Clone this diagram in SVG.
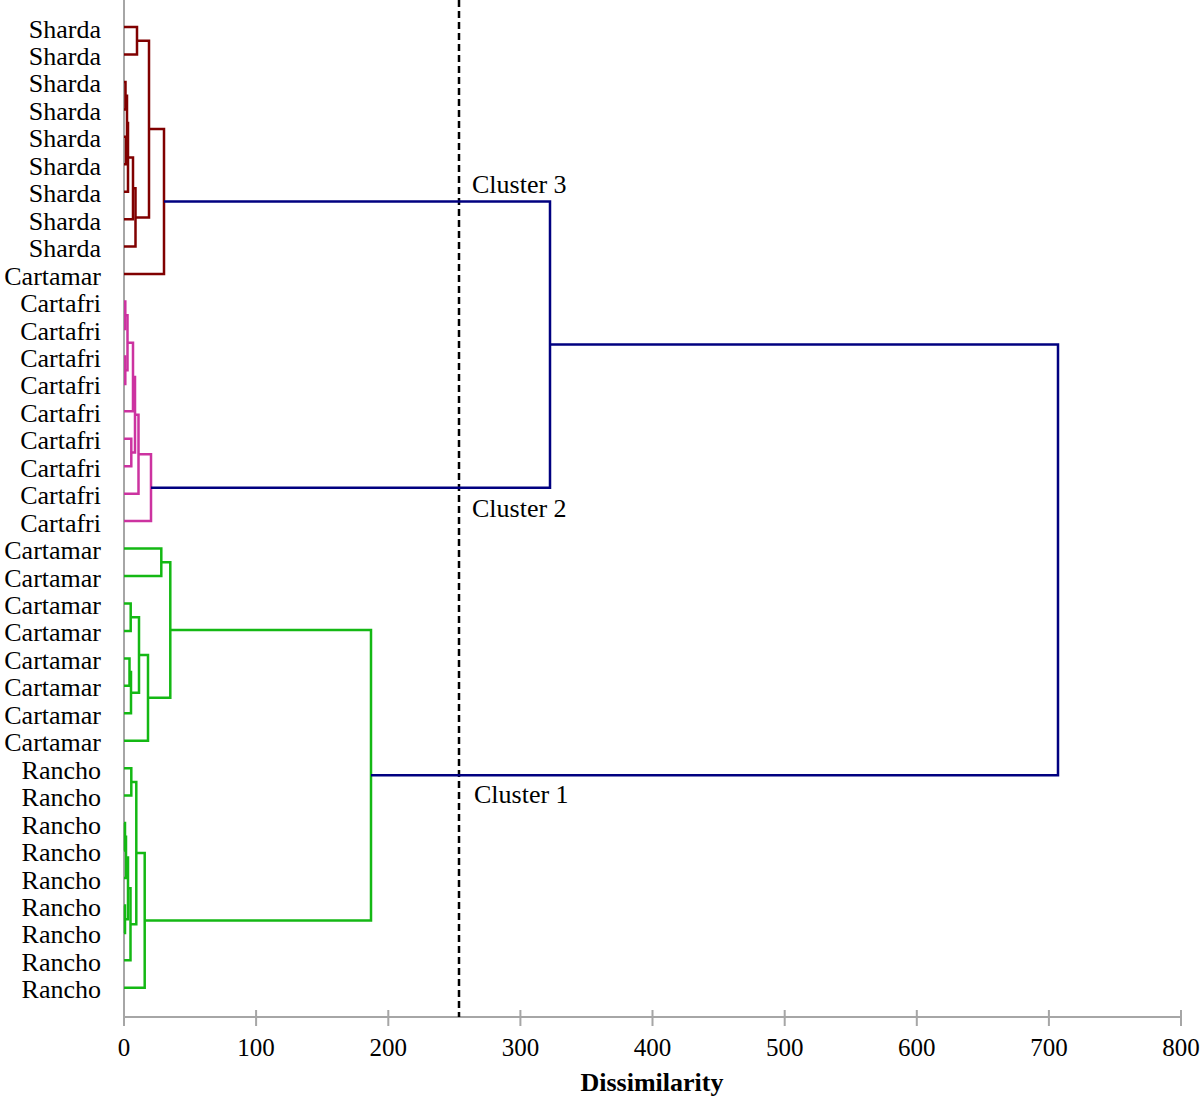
<svg xmlns="http://www.w3.org/2000/svg" width="1200" height="1100" viewBox="0 0 1200 1100">
<style>
text{font-family:"Liberation Serif","Times New Roman",serif;fill:#000}
.lbl{font-size:26px;text-anchor:end}
.tick{font-size:25px;text-anchor:middle}
.cl{font-size:26px}
.ttl{font-size:26px;font-weight:bold;text-anchor:middle}
.ax{stroke:#a6a6a6;stroke-width:2;fill:none}
.e{fill:none;stroke-width:2.5;stroke-linejoin:miter;stroke-linecap:butt}
.c3{stroke:#800000}
.c2{stroke:#cc33a0}
.c1{stroke:#14b814}
.top{stroke:#000080}
</style>
<rect width="1200" height="1100" fill="#fff"/>
<g id="axes">
<path class="ax" d="M124 0 V1017 H1181"/>
<path class="ax" d="M124 1010 V1026 M256.1 1010 V1026 M388.3 1010 V1026 M520.4 1010 V1026 M652.5 1010 V1026 M784.7 1010 V1026 M916.8 1010 V1026 M1048.9 1010 V1026 M1181 1010 V1026"/>
<text class="tick" x="124" y="1056">0</text>
<text class="tick" x="256.1" y="1056">100</text>
<text class="tick" x="388.3" y="1056">200</text>
<text class="tick" x="520.4" y="1056">300</text>
<text class="tick" x="652.5" y="1056">400</text>
<text class="tick" x="784.7" y="1056">500</text>
<text class="tick" x="916.8" y="1056">600</text>
<text class="tick" x="1048.9" y="1056">700</text>
<text class="tick" x="1181" y="1056">800</text>
<text class="ttl" x="652" y="1091">Dissimilarity</text>
</g>
<g id="leaf-labels">
<text class="lbl" x="101" y="37.5">Sharda</text>
<text class="lbl" x="101" y="65">Sharda</text>
<text class="lbl" x="101" y="92.4">Sharda</text>
<text class="lbl" x="101" y="119.9">Sharda</text>
<text class="lbl" x="101" y="147.3">Sharda</text>
<text class="lbl" x="101" y="174.8">Sharda</text>
<text class="lbl" x="101" y="202.2">Sharda</text>
<text class="lbl" x="101" y="229.7">Sharda</text>
<text class="lbl" x="101" y="257.1">Sharda</text>
<text class="lbl" x="101" y="284.6">Cartamar</text>
<text class="lbl" x="101" y="312">Cartafri</text>
<text class="lbl" x="101" y="339.5">Cartafri</text>
<text class="lbl" x="101" y="366.9">Cartafri</text>
<text class="lbl" x="101" y="394.4">Cartafri</text>
<text class="lbl" x="101" y="421.8">Cartafri</text>
<text class="lbl" x="101" y="449.3">Cartafri</text>
<text class="lbl" x="101" y="476.7">Cartafri</text>
<text class="lbl" x="101" y="504.2">Cartafri</text>
<text class="lbl" x="101" y="531.6">Cartafri</text>
<text class="lbl" x="101" y="559.1">Cartamar</text>
<text class="lbl" x="101" y="586.5">Cartamar</text>
<text class="lbl" x="101" y="614">Cartamar</text>
<text class="lbl" x="101" y="641.4">Cartamar</text>
<text class="lbl" x="101" y="668.9">Cartamar</text>
<text class="lbl" x="101" y="696.3">Cartamar</text>
<text class="lbl" x="101" y="723.8">Cartamar</text>
<text class="lbl" x="101" y="751.2">Cartamar</text>
<text class="lbl" x="101" y="778.7">Rancho</text>
<text class="lbl" x="101" y="806.1">Rancho</text>
<text class="lbl" x="101" y="833.6">Rancho</text>
<text class="lbl" x="101" y="861">Rancho</text>
<text class="lbl" x="101" y="888.5">Rancho</text>
<text class="lbl" x="101" y="915.9">Rancho</text>
<text class="lbl" x="101" y="943.4">Rancho</text>
<text class="lbl" x="101" y="970.8">Rancho</text>
<text class="lbl" x="101" y="998.3">Rancho</text>
</g>
<g id="cut-line">
<path d="M459 0 V1017" stroke="#000" stroke-width="2.5" stroke-dasharray="7,4" fill="none"/>
</g>
<g id="connectors">
<g id="cluster3-branches" class="e c3">
<path class="e c3" d="M124 27 H137 V54.5 H124"/>
<path class="e c3" d="M124 81.9 H125.5 V109.4 H124"/>
<path class="e c3" d="M124 136.8 H126 V164.3 H124"/>
<path class="e c3" d="M125.5 95.65 H127 V150.55 H126"/>
<path class="e c3" d="M127 123.1 H128 V191.7 H124"/>
<path class="e c3" d="M128 157.4 H133 V219.2 H124"/>
<path class="e c3" d="M133 188.3 H135.5 V246.6 H124"/>
<path class="e c3" d="M137 40.75 H149 V217.45 H135.5"/>
<path class="e c3" d="M149 129.1 H164 V274.1 H124"/>
</g>
<g id="cluster2-branches">
<path class="e c2" d="M124 301.5 H125.3 V329 H124"/>
<path class="e c2" d="M124 356.4 H125.3 V383.9 H124"/>
<path class="e c2" d="M125.3 315.25 H127.5 V370.15 H125.3"/>
<path class="e c2" d="M127.5 342.7 H133 V411.3 H124"/>
<path class="e c2" d="M124 438.8 H131.3 V466.2 H124"/>
<path class="e c2" d="M133 377 H135 V452.5 H131.3"/>
<path class="e c2" d="M135 414.75 H138.5 V493.7 H124"/>
<path class="e c2" d="M138.5 454.2 H151 V521.1 H124"/>
</g>
<g id="cluster1-branches">
<path class="e c1" d="M124 548.6 H161.3 V576 H124"/>
<path class="e c1" d="M124 603.5 H130.7 V630.9 H124"/>
<path class="e c1" d="M124 658.4 H129.5 V685.8 H124"/>
<path class="e c1" d="M129.5 672.1 H131 V713.3 H124"/>
<path class="e c1" d="M130.7 617.2 H139 V692.7 H131"/>
<path class="e c1" d="M139 654.95 H148 V740.7 H124"/>
<path class="e c1" d="M161.3 562.3 H170.3 V697.8 H148"/>
<path class="e c1" d="M124 768.2 H131.3 V795.6 H124"/>
<path class="e c1" d="M124 823.1 H125 V850.5 H124"/>
<path class="e c1" d="M125 836.8 H126 V878 H124"/>
<path class="e c1" d="M124 905.4 H125 V932.9 H124"/>
<path class="e c1" d="M126 857.4 H128 V919.15 H125"/>
<path class="e c1" d="M128 888.3 H130.5 V960.3 H124"/>
<path class="e c1" d="M131.3 781.9 H136.3 V924.3 H130.5"/>
<path class="e c1" d="M136.3 853.1 H144.7 V987.8 H124"/>
<path class="e c1" d="M170.3 630.05 H371 V920.45 H144.7"/>
</g>
<g id="top-branches">
<path class="e top" d="M164 201.6 H550 V487.65 H151"/>
<path class="e top" d="M550 344.6 H1058 V775.25 H371"/>
</g>
</g>
<g id="cluster-labels">
<text class="cl" x="472" y="193">Cluster 3</text>
<text class="cl" x="472" y="517">Cluster 2</text>
<text class="cl" x="474" y="803">Cluster 1</text>
</g>
</svg>
